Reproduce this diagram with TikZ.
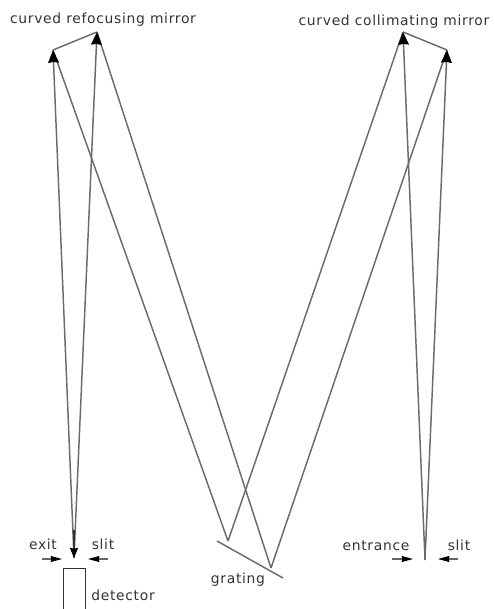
\documentclass[tikz,border=0pt]{standalone}
\usepackage{fontspec}
\setmainfont{DejaVu Sans}[LetterSpace=5]
\usetikzlibrary{arrows.meta}
\tikzset{
  beam/.style={draw=black!58,line width=1.1pt},
  tip/.style={-{Stealth[length=9.5pt,width=8pt,inset=0.5pt,black]}},
  smalltip/.style={-{Stealth[length=7.5pt,width=6pt,inset=0.5pt,black]}},
  sliparrow/.style={draw=black!60,line width=0.8pt,-{Stealth[length=8.5pt,width=4.5pt,inset=0.5pt,black]}},
  lbl/.style={inner sep=0pt,font=\fontsize{10.4}{12}\selectfont,text=black!80,anchor=base}
}
\begin{document}
\begin{tikzpicture}[x=0.75pt,y=-0.75pt]
\useasboundingbox (0,0) rectangle (494,609);
\coordinate (mA) at (53,50);
\coordinate (mB) at (97,32);
\coordinate (mC) at (403,32);
\coordinate (mD) at (447,50);
\coordinate (ex) at (74,558);
\coordinate (exs) at (74,530);
\coordinate (en) at (425,560);
\coordinate (g1) at (228,541);
\coordinate (g2) at (271,568);
\coordinate (gs) at (217,541);
\coordinate (ge) at (283,578);
\draw[beam] (mA) -- (mB);
\draw[beam] (mC) -- (mD);
\draw[beam] (gs) -- (ge);
\draw[beam] (mA) -- (g1);
\draw[beam] (mB) -- (g2);
\draw[beam] (mC) -- (g1);
\draw[beam] (mD) -- (g2);
\draw[beam,tip] (ex) -- (mA);
\draw[beam,tip] (ex) -- (mB);
\draw[beam,tip] (en) -- (mC);
\draw[beam,tip] (en) -- (mD);
\draw[draw=black!80,line width=1pt,smalltip] (exs) -- (ex);
\coordinate (s1a) at (42,559); \coordinate (s1b) at (62,559);
\coordinate (s2a) at (108,559); \coordinate (s2b) at (88,559);
\coordinate (s3a) at (392,559); \coordinate (s3b) at (413,559);
\coordinate (s4a) at (458,559); \coordinate (s4b) at (438,559);
\draw[sliparrow] (s1a) -- (s1b);
\draw[sliparrow] (s2a) -- (s2b);
\draw[sliparrow] (s3a) -- (s3b);
\draw[sliparrow] (s4a) -- (s4b);
\draw[draw=black!80,line width=0.7pt] (63,609) -- (63,568) -- (85,568) -- (85,609);
\node[lbl] (t1) at (103,24) {curved refocusing mirror};
\node[lbl] (t2) at (394,26) {curved collimating mirror};
\node[lbl] (t3) at (43,549) {exit};
\node[lbl] (t4) at (103,549) {slit};
\node[lbl] (t5) at (376,550) {entrance};
\node[lbl] (t6) at (459,550) {slit};
\node[lbl] (t7) at (238,583) {grating};
\node[lbl] (t8) at (123,600) {detector};
\end{tikzpicture}
\end{document}
